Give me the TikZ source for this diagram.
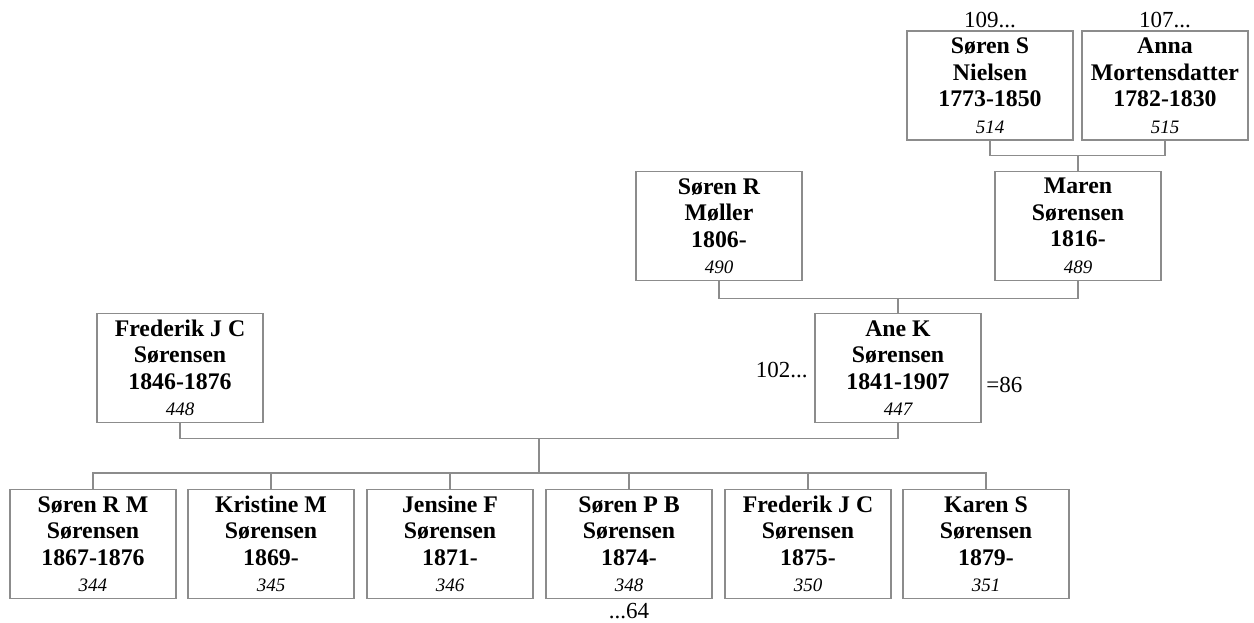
\documentclass[tikz,border=0pt]{standalone}
\usepackage{fontspec}
\setmainfont{Liberation Serif}
\usepackage{xcolor}
\usetikzlibrary{positioning,calc}

\definecolor{linegray}{RGB}{140,140,140}
\newcommand{\idno}[1]{{\fontsize{19}{26.5}\selectfont\mdseries\itshape #1}}

\begin{document}
\begin{tikzpicture}[x=1pt, y=-1pt, person/.style={draw=linegray, line width=1.2pt, minimum width=166pt, minimum height=109pt, inner sep=0pt, align=center, font=\fontsize{23.8}{26.5}\selectfont\bfseries}, tree/.style={draw=linegray, line width=1.2pt}, ref/.style={font=\fontsize{23}{26}\selectfont, inner sep=1.5pt}]

\useasboundingbox (0,0) rectangle (1254,623);

% grandparents
\node[person] (sn) at (990,85.5) {Søren S\\Nielsen\\1773-1850\\\idno{514}};
\node[person] (am) at (1165,85.5) {Anna\\Mortensdatter\\1782-1830\\\idno{515}};
\node[ref, above=1pt of sn] (snup) {109...};
\node[ref, above=1pt of am] (amup) {107...};

% parents
\node[person] (srm) at (719,226) {Søren R\\Møller\\1806-\\\idno{490}};
\node[person] (ms) at (1078,226) {Maren\\Sørensen\\1816-\\\idno{489}};

% couple
\node[person] (fjc) at (180,368) {Frederik J C\\Sørensen\\1846-1876\\\idno{448}};
\node[person] (aks) at (898,368) {Ane K\\Sørensen\\1841-1907\\\idno{447}};
\node[ref, left=5pt of aks, yshift=-2pt] (aksl) {102...};
\node[ref, right=3pt of aks, yshift=-17pt] (aksr) {=86};

% children
\node[person] (c1) at (93,544) {Søren R M\\Sørensen\\1867-1876\\\idno{344}};
\node[person] (c2) at (271,544) {Kristine M\\Sørensen\\1869-\\\idno{345}};
\node[person] (c3) at (450,544) {Jensine F\\Sørensen\\1871-\\\idno{346}};
\node[person] (c4) at (629,544) {Søren P B\\Sørensen\\1874-\\\idno{348}};
\node[person] (c5) at (808,544) {Frederik J C\\Sørensen\\1875-\\\idno{350}};
\node[person] (c6) at (986,544) {Karen S\\Sørensen\\1879-\\\idno{351}};
\node[ref, below=2pt of c4] (c4dn) {...64};

% lines
\draw[tree] (sn.south) -- ++(0,15) coordinate (topbar) -| (am.south);
\draw[tree] (ms.north) -- (ms.north |- topbar);
\draw[tree] (srm.south) -- ++(0,17) coordinate (midbar) -| (ms.south);
\draw[tree] (aks.north) -- (aks.north |- midbar);
\draw[tree] (fjc.south) -- ++(0,15.5) -| (aks.south);
\coordinate (fam) at (539,438);
\coordinate (kids) at (539,473);
\draw[tree] (fam) -- (kids);
\draw[tree] (c1.north) -- (c1.north |- kids) -| (c6.north);
\foreach \c in {c2,c3,c4,c5}
  \draw[tree] (\c.north) -- (\c.north |- kids);
\end{tikzpicture}
\end{document}
